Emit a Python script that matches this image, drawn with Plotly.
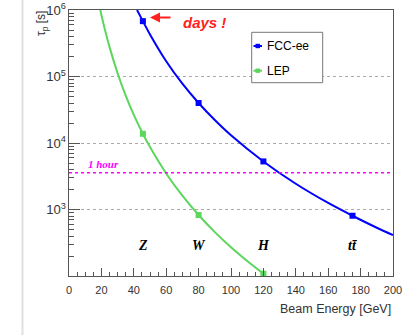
import plotly.graph_objects as go

# ---- data ----
fcc_curve_E = [42, 45.6, 50, 60, 70, 80, 90, 100, 120, 140, 160, 175, 190, 200]
fcc_curve_tau = [1.0e6, 6.8e5, 4.3e5, 1.7e5, 7.8e4, 4.0e4, 2.22e4, 1.31e4, 5.3e3, 2.45e3, 1.26e3, 8.1e2, 5.35e2, 4.15e2]
lep_curve_E = [19.3, 22, 25, 30, 35, 40, 45.6, 50, 60, 70, 80, 90, 100, 110, 120]
lep_curve_tau = [1.0e6, 5.28e5, 2.79e5, 1.12e5, 5.18e4, 2.66e4, 1.38e4, 8.7e3, 3.5e3, 1.62e3, 8.3e2, 4.6e2, 2.72e2, 1.69e2, 1.09e2]
fcc_pts_E = [45.6, 80, 120, 175]
fcc_pts_tau = [6.8e5, 4.0e4, 5.3e3, 8.1e2]
lep_pts_E = [45.6, 80, 120]
lep_pts_tau = [1.38e4, 8.3e2, 1.09e2]
one_hour = 3600
process_labels = ["Z", "W", "H", "tt\u0304"]
process_E = [45.6, 80, 120, 175]
process_tau = 290
legend_names = ["FCC-ee", "LEP"]

BLUE = "#0000ff"
GREEN = "#5cd65c"
RED = "#ff2020"
MAGENTA = "#ff00ff"
AX = "#555555"

W, H = 405, 335
L, R, T, B = 69, 12, 10, 59
PW, PH = W - L - R, H - T - B

def px(x):
    return (x - L) / PW

def py(y):
    return 1 - (y - T) / PH

fig = go.Figure()
fig.add_trace(go.Scatter(x=fcc_curve_E, y=fcc_curve_tau, mode="lines",
                         line=dict(color=BLUE, width=2, shape="spline"), showlegend=False))
fig.add_trace(go.Scatter(x=lep_curve_E, y=lep_curve_tau, mode="lines",
                         line=dict(color=GREEN, width=2, shape="spline"), showlegend=False))
fig.add_trace(go.Scatter(x=fcc_pts_E, y=fcc_pts_tau, mode="markers",
                         marker=dict(color=BLUE, size=6, symbol="square"), showlegend=False))
fig.add_trace(go.Scatter(x=lep_pts_E, y=lep_pts_tau, mode="markers",
                         marker=dict(color=GREEN, size=6, symbol="square"), showlegend=False,
                         cliponaxis=False))
fig.add_trace(go.Scatter(x=[0, 200], y=[one_hour, one_hour], mode="lines",
                         line=dict(color=MAGENTA, width=1.5, dash="dot"), showlegend=False))

annotations = []
for lab, e in zip(process_labels, process_E):
    annotations.append(dict(x=e, y=2.4624, xref="x", yref="y", text="<b><i>" + lab + "</i></b>",
                            showarrow=False,
                            font=dict(family="Liberation Serif", size=14, color="black"),
                            xanchor="center", yanchor="middle"))

annotations.append(dict(x=px(86), y=py(163.5), xref="paper", yref="paper", text="<b><i>1 hour</i></b>",
                        showarrow=False, xanchor="left", yanchor="middle",
                        font=dict(family="Liberation Serif", size=11, color=MAGENTA)))
annotations.append(dict(x=px(181), y=py(22), xref="paper", yref="paper", text="<b><i>days !</i></b>",
                        showarrow=False, xanchor="left", yanchor="middle",
                        font=dict(family="Liberation Sans", size=15, color=RED)))
annotations.append(dict(x=px(150), y=py(17.5), xref="paper", yref="paper", text="",
                        showarrow=True, ax=22, ay=0, arrowhead=2, arrowsize=1, arrowwidth=2,
                        arrowcolor=RED))
annotations.append(dict(x=px(33), y=py(24), xref="paper", yref="paper", text="\u03c4<sub>p</sub> [s]",
                        showarrow=False, textangle=-90, xanchor="center", yanchor="middle",
                        xshift=9,
                        font=dict(family="Liberation Sans", size=12, color="#333333")))
annotations.append(dict(x=px(393), y=py(309), xref="paper", yref="paper", text="Beam Energy [GeV]",
                        showarrow=False, xanchor="right", yanchor="middle",
                        font=dict(family="Liberation Sans", size=12.5, color="#333333")))

# manual legend
shapes = [dict(type="rect", xref="paper", yref="paper", x0=px(251.7), x1=px(322.7), y0=py(82.7), y1=py(32.3),
               line=dict(color="#777777", width=1), fillcolor="white", layer="above")]
for name, col, yy in zip(legend_names, [BLUE, GREEN], [46, 70.7]):
    shapes.append(dict(type="line", xref="paper", yref="paper", x0=px(253.5), x1=px(262), y0=py(yy), y1=py(yy),
                       line=dict(color=col, width=2), layer="above"))
    shapes.append(dict(type="rect", xref="paper", yref="paper", x0=px(255.5), x1=px(260), y0=py(yy + 2.2), y1=py(yy - 2.2),
                       line=dict(color=col, width=0), fillcolor=col, layer="above"))
    annotations.append(dict(x=px(265), y=py(yy), xref="paper", yref="paper", text=name, showarrow=False,
                            xanchor="left", yanchor="middle",
                            font=dict(family="Liberation Sans", size=12, color="black")))
# faint page edge line
shapes.append(dict(type="line", xref="paper", yref="paper", x0=px(22.5), x1=px(22.5), y0=py(0), y1=py(335),
                   line=dict(color="#e0e0e0", width=2)))

fig.update_layout(
    width=W, height=H,
    margin=dict(l=L, r=R, t=T, b=B, autoexpand=False),
    paper_bgcolor="white", plot_bgcolor="white",
    showlegend=False,
    annotations=annotations,
    shapes=shapes,
    font=dict(family="Liberation Sans", size=11, color="#333333"),
)
fig.update_xaxes(range=[0, 200], dtick=20, tick0=0, showgrid=False, zeroline=False, automargin=False,
                 showline=True, linecolor=AX, linewidth=1, mirror=True,
                 ticks="inside", ticklen=8, tickcolor=AX, tickwidth=1, ticklabelstandoff=4,
                 minor=dict(dtick=5, ticks="inside", ticklen=4, tickcolor=AX, showgrid=False),
                 tickfont=dict(family="Liberation Sans", size=11, color="#333333"))
fig.update_yaxes(type="log", range=[2.003, 6], dtick=1, exponentformat="power", showgrid=True,
                 automargin=False,
                 gridcolor="#aaaaaa", griddash="dot", gridwidth=1, zeroline=False,
                 showline=True, linecolor=AX, linewidth=1, mirror=True,
                 ticks="inside", ticklen=11, tickcolor=AX, tickwidth=1,
                 minor=dict(ticks="inside", ticklen=5, tickcolor=AX, showgrid=False),
                 tickfont=dict(family="Liberation Sans", size=10.5, color="#333333"))

fig.write_html("out.html")
